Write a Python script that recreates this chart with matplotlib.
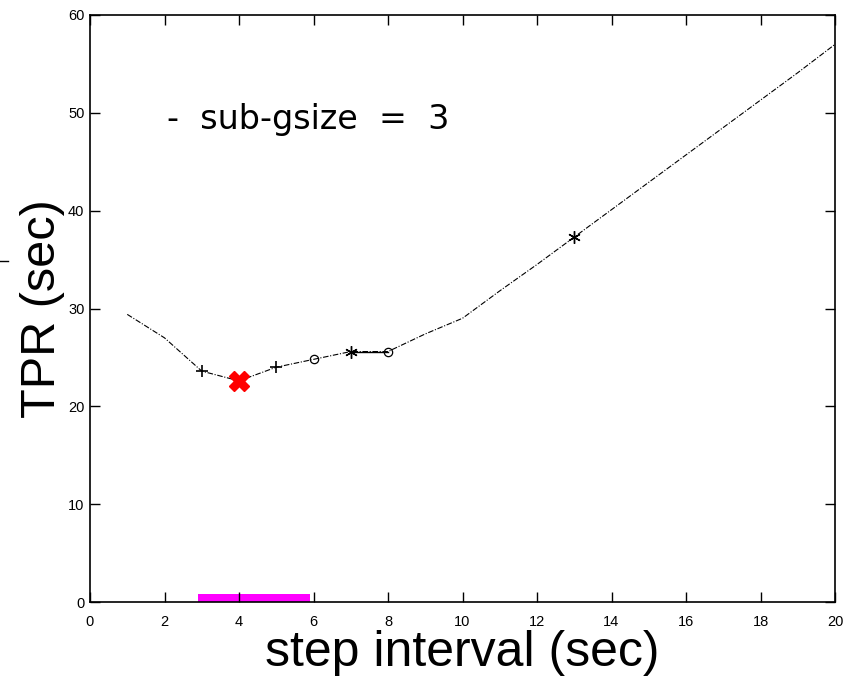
import numpy as np
import matplotlib.pyplot as plt
from matplotlib.lines import Line2D

# step interval (sec) vs TPR (sec)
step = [1, 2, 3, 4, 5, 6, 7, 8, 9, 10, 11, 12, 13, 14, 15, 16, 17, 18, 19, 20]
tpr = [29.4, 27.0, 23.6, 22.6, 24.0, 24.8, 25.6, 25.6, 27.4, 29.0,
       31.8, 34.5, 37.3, 40.1, 42.9, 45.7, 48.5, 51.3, 54.1, 57.0]

# marked samples
plus_x = [3, 5]
circ_x = [6, 8]
star_x = [7, 13]
best_x = 4

# highlighted step range on the bottom
band_lo, band_hi = 2.9, 5.9

xticks = [0, 2, 4, 6, 8, 10, 12, 14, 16, 18, 20]
yticks = [0, 10, 20, 30, 40, 50, 60]

def val(x):
    return tpr[step.index(x)]

fig = plt.figure(figsize=(8.58, 6.8), dpi=100)
ax = fig.add_axes([90 / 858, 1 - 602 / 680, 745 / 858, 587 / 680])

ax.plot(step, tpr, color='black', lw=0.8, ls=(0, (5, 1.5, 1, 1.5)))
ax.plot([7, 8], [val(7), val(8)], color='black', lw=1.0)

ax.plot(plus_x, [val(x) for x in plus_x], ls='none', marker='+', ms=8,
        mew=1.2, color='black')
ax.plot(circ_x, [val(x) for x in circ_x], ls='none', marker='o', ms=6,
        mfc='none', mew=0.9, color='black')
ax.plot(star_x, [val(x) for x in star_x], ls='none', marker=(6, 2, 0), ms=9,
        mew=1.0, color='black')
ax.plot([best_x], [val(best_x)], ls='none', marker='X', ms=15,
        color='red', mec='red')

ax.fill_between([band_lo, band_hi], 0, 0.8, color='magenta', lw=0)

ax.set_xlim(0, 20)
ax.set_ylim(0, 60)
ax.set_xticks(xticks)
ax.set_yticks(yticks)
tick_font = dict(family=['Liberation Sans'], size=10.5)
ax.set_xticklabels([str(t) for t in xticks], fontdict=tick_font)
ax.set_yticklabels([str(t) for t in yticks], fontdict=tick_font)
ax.tick_params(direction='in', length=7, width=1, top=True, right=True)
ax.tick_params(axis='x', pad=9)
ax.tick_params(axis='y', pad=4)
for s in ax.spines.values():
    s.set_linewidth(1.2)

ax.set_xlabel('step interval (sec)', fontsize=36, family='Liberation Sans',
              labelpad=1)
ax.set_ylabel('TPR (sec)', fontsize=35, family='Liberation Sans', labelpad=2)

ax.text(2.07, 49.3, '-  sub-gsize  =  3', fontsize=24, family='DejaVu Sans',
        va='center')

fig.add_artist(Line2D([0, 8 / 858], [1 - 261 / 680, 1 - 261 / 680],
                      color='black', lw=1))

fig.savefig('out.png', dpi=100)
